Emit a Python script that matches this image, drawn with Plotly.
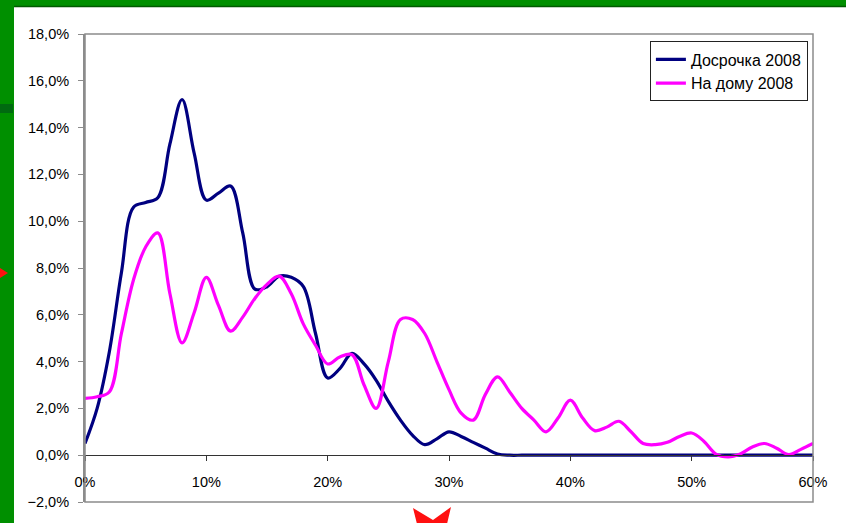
import plotly.graph_objects as go

# ---- data (percent units) ----
x_pct = list(range(0, 61))
dosrochka_2008 = [0.5, 2.0, 4.4, 7.8, 10.6, 10.8, 11.0, 13.3, 15.2, 12.9,
                  10.9, 11.2, 11.5, 9.5, 7.1, 7.2, 7.65, 7.6, 7.2, 5.2,
                  3.3, 3.7, 4.35, 3.9, 3.2, 2.3, 1.5, 0.85, 0.45, 0.7,
                  1.0, 0.8, 0.55, 0.3, 0.05] + [0.0] * 26
na_domu_2008 = [2.43, 2.5, 2.7, 5.2, 7.5, 8.9, 9.5, 6.9, 4.8, 6.1,
                7.6, 6.4, 5.3, 5.9, 6.7, 7.3, 7.65, 6.9, 5.6, 4.7,
                3.9, 4.2, 4.3, 3.0, 2.0, 4.0, 5.8, 5.8, 5.2, 4.0,
                2.8, 1.8, 1.5, 2.6, 3.35, 2.7, 2.0, 1.5, 1.0, 1.6,
                2.35, 1.6, 1.05, 1.2, 1.45, 1.0, 0.5, 0.45, 0.55, 0.8,
                0.95, 0.6, 0.05, -0.07, 0.05, 0.35, 0.5, 0.3, 0.03, 0.25,
                0.5]
series_names = ["Досрочка 2008", "На дому 2008"]
y_min, y_max = -2, 18
x_min, x_max = 0, 60

W, H = 846, 523
L, R, T, B = 85, 33, 34, 21
PW, PH = W - L - R, H - T - B

def px(xp):
    return (xp - L) / PW

def py(yp):
    return (H - B - yp) / PH

fig = go.Figure()
fig.add_trace(go.Scatter(x=x_pct, y=dosrochka_2008, name=series_names[0], mode="lines",
                         line=dict(color="#000080", width=3.2, shape="spline", smoothing=1.0)))
fig.add_trace(go.Scatter(x=x_pct, y=na_domu_2008, name=series_names[1], mode="lines",
                         line=dict(color="#FF00FF", width=3.2, shape="spline", smoothing=1.0)))

shapes = [
    # white chart area on green slide
    dict(type="rect", xref="paper", yref="paper", x0=px(14), x1=px(850), y0=py(7), y1=py(530),
         fillcolor="white", line=dict(width=0), layer="below"),
    dict(type="line", xref="paper", yref="paper", x0=px(14), x1=px(850), y0=py(6.5), y1=py(6.5),
         line=dict(color="#005a00", width=1.5), layer="below"),
    dict(type="rect", xref="paper", yref="paper", x0=px(0), x1=px(13), y0=py(104), y1=py(113),
         fillcolor="#006a10", line=dict(width=0), layer="below"),
    dict(type="path", xref="paper", yref="paper",
         path=f"M {px(0)},{py(268)} L {px(8)},{py(273)} L {px(0)},{py(278)} Z",
         fillcolor="#ff1010", line=dict(width=0), layer="above"),
    dict(type="path", xref="paper", yref="paper",
         path=(f"M {px(413)},{py(508)} L {px(433)},{py(520)} L {px(451)},{py(507)} "
               f"L {px(447)},{py(524)} L {px(417)},{py(524)} Z"),
         fillcolor="#ff1010", line=dict(width=0), layer="above"),
    # plot border
    dict(type="rect", xref="paper", yref="paper", x0=0, x1=1, y0=0, y1=1,
         line=dict(color="#8c8c8c", width=1.5), layer="above"),
]

font_family = "Liberation Sans, Arial, sans-serif"
fig.update_layout(
    width=W, height=H,
    margin=dict(l=L, r=R, t=T, b=B, pad=0),
    paper_bgcolor="#008f00",
    plot_bgcolor="white",
    separators=", ",
    font=dict(family=font_family, color="black", size=14.5),
    shapes=shapes,
    showlegend=True,
    legend=dict(x=0.993, xanchor="right", y=0.984, yanchor="top",
                bgcolor="white", bordercolor="#222", borderwidth=1,
                font=dict(family=font_family, size=16, color="black"),
                itemwidth=30, tracegroupgap=0),
    xaxis=dict(range=[x_min, x_max], dtick=10, tick0=0, ticksuffix="%", tickformat="d",
               showgrid=False, zeroline=False, anchor="free", position=0.1,
               showline=True, linecolor="#333", linewidth=1.2,
               ticks="outside", ticklen=5, tickcolor="#333", ticklabelstandoff=8,
               tickfont=dict(size=14.5)),
    yaxis=dict(range=[y_min, y_max], dtick=2, tick0=0, tickformat=".1f", ticksuffix="%",
               showgrid=False, zeroline=False, showline=True, linecolor="#8c8c8c", linewidth=2,
               ticks="outside", ticklen=5, tickcolor="#8c8c8c", ticklabelstandoff=6,
               tickfont=dict(size=14.5)),
)

fig.write_html("out.html", config={"displayModeBar": False},
               post_script="document.body.style.margin='0';document.body.style.overflow='hidden';")
